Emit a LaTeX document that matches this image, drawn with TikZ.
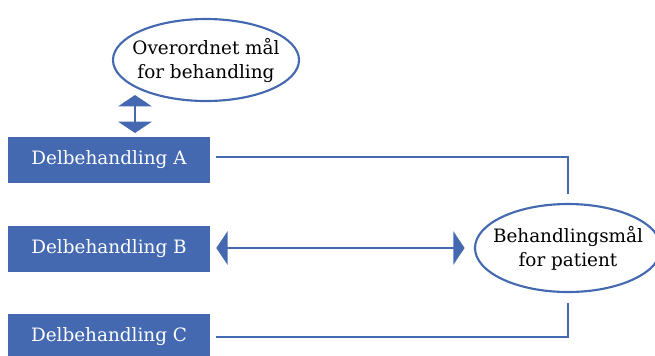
\documentclass[tikz,border=0pt]{standalone}
\usepackage{fontspec}
\setmainfont{DejaVu Serif}
\usetikzlibrary{arrows.meta,shapes.geometric}
\definecolor{dblue}{HTML}{4469B1}
\tikzset{
  delbox/.style={
    fill = dblue,
    text = white,
    minimum width = 151.5pt,
    minimum height = 34.5pt,
    inner sep = 0pt,
    font = \fontsize{13.8}{16}\selectfont
  },
  maal/.style={
    shape = ellipse,
    draw = dblue,
    line width = 1.6pt,
    minimum width = 139.5pt,
    minimum height = 61.5pt,
    inner xsep = -12pt,
    inner ysep = 0pt,
    align = center,
    font = \fontsize{13.8}{18}\selectfont
  },
  link/.style={
    draw = dblue,
    line width = 1.6pt
  },
  biarrow/.style={
    link,
    {Triangle[width=25pt,length=8.5pt]}-{Triangle[width=25pt,length=8.5pt]}
  }
}
\begin{document}
\begin{tikzpicture}[x=0.75pt,y=-0.75pt]
  \useasboundingbox (0,0) rectangle (655,355);
  \node[maal] (overmaal) at (206,60) {Overordnet mål\\for behandling};
  \node[maal, minimum height=66pt] (pasmaal) at (568,248) {Behandlingsmål\\for patient};
  \foreach \n/\y in {A/160, B/249, C/337}{
      \node[delbox] (del\n) at (109,\y) {Delbehandling \n};
  }
  \coordinate (overtip) at (135,95);
  \coordinate (deltip) at (135,133);
  \draw[biarrow] (overtip) -- (deltip);
  \draw[link, shorten <=4.5pt, shorten >=7pt] ([yshift=2.5pt]delA.east) -| (pasmaal.north);
  \draw[biarrow, shorten <=4.5pt, shorten >=7pt] ([yshift=0.75pt]delB.east) -- (pasmaal.west);
  \draw[link, shorten <=4.5pt, shorten >=7.5pt] (delC.east) -| (pasmaal.south);
\end{tikzpicture}
\end{document}
